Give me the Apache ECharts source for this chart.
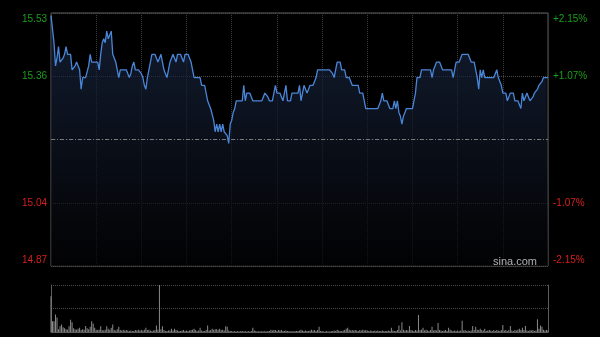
<!DOCTYPE html>
<html><head><meta charset="utf-8">
<script src="https://cdn.jsdelivr.net/npm/echarts@6/dist/echarts.min.js"></script>
<style>html,body{margin:0;padding:0;background:#000}#c{width:600px;height:337px}</style>
</head><body><div id="c"></div>
<script>
const prevClose = 15.20;
const pctMin = -2.15, pctMax = 2.15, pctStep = 1.075;

const prices = [
15.52,15.52,15.45,15.39,15.41,15.44,15.40,15.40,15.41,15.42,
15.44,15.42,15.42,15.42,15.38,15.38,15.39,15.40,15.40,15.38,
15.33,15.36,15.36,15.36,15.36,15.39,15.42,15.40,15.40,15.40,
15.40,15.40,15.38,15.42,15.45,15.46,15.45,15.48,15.46,15.47,
15.48,15.42,15.42,15.40,15.38,15.36,15.38,15.38,15.38,15.38,
15.38,15.38,15.36,15.37,15.39,15.40,15.38,15.38,15.38,15.38,
15.37,15.36,15.34,15.33,15.36,15.38,15.40,15.42,15.42,15.42,
15.42,15.40,15.41,15.42,15.40,15.38,15.37,15.36,15.38,15.40,
15.41,15.42,15.42,15.40,15.42,15.42,15.42,15.41,15.40,15.42,
15.42,15.42,15.42,15.40,15.38,15.36,15.36,15.36,15.36,15.36,
15.34,15.34,15.34,15.32,15.30,15.29,15.28,15.28,15.25,15.22,
15.24,15.22,15.24,15.22,15.24,15.22,15.22,15.21,15.19,15.24,
15.25,15.27,15.28,15.30,15.30,15.30,15.30,15.30,15.34,15.30,
15.32,15.32,15.32,15.32,15.30,15.30,15.30,15.30,15.30,15.30,
15.30,15.31,15.32,15.32,15.31,15.30,15.30,15.30,15.32,15.34,
15.32,15.32,15.32,15.31,15.30,15.32,15.34,15.30,15.30,15.30,
15.32,15.32,15.32,15.32,15.32,15.34,15.30,15.32,15.34,15.33,
15.32,15.33,15.34,15.34,15.34,15.34,15.36,15.38,15.38,15.38,
15.38,15.38,15.38,15.38,15.38,15.38,15.38,15.37,15.36,15.38,
15.40,15.40,15.40,15.38,15.38,15.38,15.36,15.36,15.36,15.36,
15.34,15.34,15.34,15.34,15.34,15.32,15.32,15.32,15.30,15.28,
15.28,15.28,15.28,15.28,15.28,15.28,15.28,15.28,15.28,15.30,
15.32,15.30,15.30,15.30,15.30,15.28,15.28,15.28,15.30,15.28,
15.30,15.27,15.26,15.24,15.26,15.27,15.28,15.28,15.28,15.28,
15.28,15.28,15.32,15.36,15.36,15.36,15.38,15.38,15.38,15.38,
15.38,15.38,15.38,15.36,15.38,15.39,15.40,15.40,15.40,15.40,
15.38,15.38,15.38,15.38,15.38,15.38,15.38,15.36,15.38,15.40,
15.40,15.40,15.40,15.42,15.42,15.42,15.42,15.42,15.42,15.40,
15.40,15.40,15.38,15.36,15.33,15.38,15.36,15.38,15.36,15.36,
15.36,15.36,15.36,15.36,15.36,15.36,15.38,15.36,15.35,15.34,
15.32,15.32,15.32,15.30,15.30,15.32,15.32,15.32,15.30,15.30,
15.30,15.29,15.28,15.32,15.30,15.31,15.32,15.31,15.30,15.30,
15.31,15.32,15.32,15.33,15.34,15.34,15.35,15.36,15.36,15.36,
15.36
];

const volumes = [
76,23,23,37,31,6,12,16,10,8,
6,5,12,26,21,8,6,5,7,9,
4,6,5,13,8,6,11,23,18,9,
5,4,5,12,4,3,5,12,7,5,
9,16,4,3,6,11,4,3,5,3,
4,3,2,3,2,2,4,3,5,3,
4,3,5,9,4,5,3,2,3,4,
14,5,100,6,12,4,2,2,3,3,
7,3,7,4,3,2,2,3,4,2,
3,2,3,4,5,7,4,2,3,9,
3,2,2,4,14,3,4,7,5,6,
6,5,7,4,5,3,12,11,3,2,
2,1,2,1,2,1,2,2,1,2,
1,2,1,2,9,3,2,1,2,1,
2,1,2,1,2,2,5,3,4,4,
2,4,3,4,2,2,3,2,2,1,
2,1,2,2,2,3,5,3,2,3,
2,2,3,5,3,4,2,4,11,2,
2,1,1,2,1,1,2,2,3,2,
5,3,2,2,3,4,7,9,5,3,
4,3,4,3,2,4,3,5,3,4,
3,2,3,2,2,3,2,3,2,2,
3,2,2,2,3,2,9,3,2,2,
4,14,3,21,5,3,4,3,13,4,
3,2,4,3,36,4,5,9,3,5,
3,2,4,11,3,4,3,19,4,3,
2,3,4,2,9,5,3,2,3,2,
3,2,3,24,3,4,2,3,2,3,
13,4,11,5,4,7,4,3,7,2,
3,4,3,2,4,2,4,3,2,4,
15,3,4,2,4,13,3,2,4,3,
5,7,4,9,4,13,3,2,4,3,
4,2,3,27,7,14,11,5,3,4,
3
];

// time categories (HK session 09:30-12:00, 13:01-16:00)
const times = [];
function pad(n){return (n<10?'0':'')+n;}
for (let m = 9*60+30; m <= 12*60; m++) times.push(pad(Math.floor(m/60))+':'+pad(m%60));
for (let m = 13*60+1; m <= 16*60; m++) times.push(pad(Math.floor(m/60))+':'+pad(m%60));

const pct = prices.map(p => (p - prevClose) / prevClose * 100);

const GREEN = '#1a9e1a', RED = '#d81e1e';
const FONT = 'Liberation Sans, Arial, sans-serif';
const FS = 10;

function leftFmt(v){
  if (Math.abs(v) < 1e-6) return '';
  const p = (prevClose * (1 + v/100)).toFixed(2);
  const k = (v > 0 ? 'up' : 'dn') + (v >= pctMax - 1e-6 ? 'T' : (v <= pctMin + 1e-6 ? 'B' : ''));
  return '{' + k + '|' + p + '}';
}
function rightFmt(v){
  if (Math.abs(v) < 1e-6) return '';
  const s = (v > 0 ? '+' : '-') + Math.abs(v).toFixed(2) + '%';
  const k = (v > 0 ? 'up' : 'dn') + (v >= pctMax - 1e-6 ? 'T' : (v <= pctMin + 1e-6 ? 'B' : ''));
  return '{' + k + '|' + s + '}';
}
const rich = {
  up:  {color: GREEN, fontSize: FS, fontFamily: FONT},
  dn:  {color: RED, fontSize: FS, fontFamily: FONT},
  upT: {color: GREEN, fontSize: FS, fontFamily: FONT, padding: [12,0,0,0]},
  dnB: {color: RED, fontSize: FS, fontFamily: FONT, padding: [0,0,12,0]}
};

const chart = echarts.init(document.getElementById('c'), null, {renderer: 'canvas'});
chart.setOption({
  backgroundColor: '#000',
  animation: false,
  grid: [
    {left: 51, right: 52, top: 13, height: 253, show: true, borderColor: '#5c5c5c', borderWidth: 1, backgroundColor: 'transparent'},
    {left: 51, right: 52, top: 285, height: 47}
  ],
  xAxis: [
    {type: 'category', gridIndex: 0, data: times, boundaryGap: false,
     axisLine: {show: false}, axisTick: {show: false}, axisLabel: {show: false},
     splitLine: {show: true, interval: 29, lineStyle: {color: '#3c3c3c', type: 'dotted', width: 1}}},
    {type: 'category', gridIndex: 1, data: times, boundaryGap: false,
     axisLine: {show: true, lineStyle: {color: '#5c5c5c'}}, axisTick: {show: false}, axisLabel: {show: false},
     splitLine: {show: false}}
  ],
  yAxis: [
    {type: 'value', gridIndex: 0, min: pctMin, max: pctMax, interval: pctStep, position: 'left',
     axisLine: {show: false}, axisTick: {show: false},
     axisLabel: {show: true, margin: 4, formatter: leftFmt, rich: rich, fontSize: FS, fontFamily: FONT},
     splitLine: {show: true, lineStyle: {color: '#4a4a4a', type: 'dotted', width: 1}}},
    {type: 'value', gridIndex: 0, min: pctMin, max: pctMax, interval: pctStep, position: 'right',
     axisLine: {show: false}, axisTick: {show: false},
     axisLabel: {show: true, margin: 5, formatter: rightFmt, rich: rich, fontSize: FS, fontFamily: FONT},
     splitLine: {show: false}},
    {type: 'value', gridIndex: 1, min: 0, max: Math.max.apply(null, volumes), interval: Math.max.apply(null, volumes)/2,
     position: 'left',
     axisLine: {show: true, lineStyle: {color: '#5c5c5c'}}, axisTick: {show: false}, axisLabel: {show: false},
     splitLine: {show: true, lineStyle: {color: '#4a4a4a', type: 'dotted', width: 1}}},
    {type: 'value', gridIndex: 1, min: 0, max: Math.max.apply(null, volumes), position: 'right',
     axisLine: {show: true, lineStyle: {color: '#5c5c5c'}}, axisTick: {show: false}, axisLabel: {show: false},
     splitLine: {show: false}}
  ],
  series: [
    {type: 'line', xAxisIndex: 0, yAxisIndex: 0, data: pct, showSymbol: false, symbol: 'none',
     lineStyle: {color: '#4a86d8', width: 1.3},
     areaStyle: {origin: 'start', color: new echarts.graphic.LinearGradient(0, 0, 0, 1, [
       {offset: 0, color: '#1a2844'}, {offset: 1, color: '#030304'}])},
     markLine: {silent: true, symbol: 'none', label: {show: false},
       lineStyle: {color: '#7a7a7a', type: [4, 2, 1, 2], width: 1},
       data: [{yAxis: 0}]},
     z: 3},
    {type: 'bar', xAxisIndex: 1, yAxisIndex: 2, data: volumes, barWidth: 1,
     itemStyle: {color: '#8a8a8a'}}
  ],
  graphic: [
    {type: 'text', right: 63, top: 256, z: 10,
     style: {text: 'sina.com', fill: '#b0b0b0', font: '11px "Liberation Sans", Arial, sans-serif'}}
  ]
});
</script>
</body></html>
